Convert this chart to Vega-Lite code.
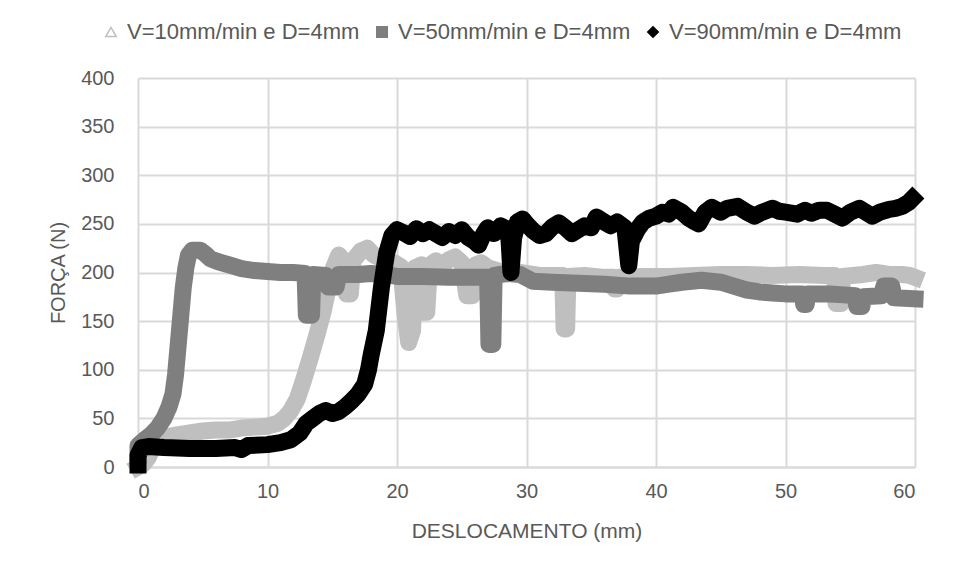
{
  "$schema": "https://vega.github.io/schema/vega-lite/v6.json",
  "width": 777,
  "height": 389,
  "autosize": {"type": "none"},
  "padding": {"left": 138, "top": 78, "right": 41, "bottom": 110},
  "background": "white",
  "config": {
    "view": {"stroke": null},
    "font": "Liberation Sans",
    "axis": {
      "gridColor": "#d9d9d9", "gridWidth": 2, "ticks": false, "tickSize": 0,
      "labelColor": "#595959", "titleColor": "#595959", "titleFontWeight": "normal",
      "labelFont": "Liberation Sans", "titleFont": "Liberation Sans"
    },
    "legend": {"labelFont": "Liberation Sans"}
  },
  "data": {"values": [
    {"s":"V=10mm/min e D=4mm","x":0,"y":0},{"s":"V=10mm/min e D=4mm","x":0.4,"y":3},{"s":"V=10mm/min e D=4mm","x":0.8,"y":10},{"s":"V=10mm/min e D=4mm","x":1.2,"y":22},{"s":"V=10mm/min e D=4mm","x":1.6,"y":28},{"s":"V=10mm/min e D=4mm","x":2.2,"y":31},{"s":"V=10mm/min e D=4mm","x":3,"y":33},{"s":"V=10mm/min e D=4mm","x":4,"y":35},{"s":"V=10mm/min e D=4mm","x":5,"y":37},{"s":"V=10mm/min e D=4mm","x":6,"y":38},{"s":"V=10mm/min e D=4mm","x":7,"y":38},{"s":"V=10mm/min e D=4mm","x":8,"y":40},{"s":"V=10mm/min e D=4mm","x":9,"y":41},{"s":"V=10mm/min e D=4mm","x":10,"y":42},{"s":"V=10mm/min e D=4mm","x":10.8,"y":45},{"s":"V=10mm/min e D=4mm","x":11.3,"y":50},{"s":"V=10mm/min e D=4mm","x":11.8,"y":58},{"s":"V=10mm/min e D=4mm","x":12.3,"y":70},{"s":"V=10mm/min e D=4mm","x":12.8,"y":90},{"s":"V=10mm/min e D=4mm","x":13.3,"y":112},{"s":"V=10mm/min e D=4mm","x":13.8,"y":135},{"s":"V=10mm/min e D=4mm","x":14.3,"y":160},{"s":"V=10mm/min e D=4mm","x":14.7,"y":185},{"s":"V=10mm/min e D=4mm","x":15.1,"y":205},{"s":"V=10mm/min e D=4mm","x":15.5,"y":218},{"s":"V=10mm/min e D=4mm","x":15.9,"y":212},{"s":"V=10mm/min e D=4mm","x":16.1,"y":178},{"s":"V=10mm/min e D=4mm","x":16.4,"y":178},{"s":"V=10mm/min e D=4mm","x":16.6,"y":212},{"s":"V=10mm/min e D=4mm","x":17.2,"y":222},{"s":"V=10mm/min e D=4mm","x":17.7,"y":225},{"s":"V=10mm/min e D=4mm","x":18.2,"y":218},{"s":"V=10mm/min e D=4mm","x":18.7,"y":215},{"s":"V=10mm/min e D=4mm","x":19.2,"y":208},{"s":"V=10mm/min e D=4mm","x":19.8,"y":210},{"s":"V=10mm/min e D=4mm","x":20.3,"y":206},{"s":"V=10mm/min e D=4mm","x":20.6,"y":160},{"s":"V=10mm/min e D=4mm","x":20.9,"y":128},{"s":"V=10mm/min e D=4mm","x":21.2,"y":140},{"s":"V=10mm/min e D=4mm","x":21.4,"y":205},{"s":"V=10mm/min e D=4mm","x":21.9,"y":208},{"s":"V=10mm/min e D=4mm","x":22.05,"y":159},{"s":"V=10mm/min e D=4mm","x":22.3,"y":159},{"s":"V=10mm/min e D=4mm","x":22.5,"y":207},{"s":"V=10mm/min e D=4mm","x":23,"y":212},{"s":"V=10mm/min e D=4mm","x":23.5,"y":208},{"s":"V=10mm/min e D=4mm","x":24,"y":213},{"s":"V=10mm/min e D=4mm","x":24.5,"y":216},{"s":"V=10mm/min e D=4mm","x":25,"y":210},{"s":"V=10mm/min e D=4mm","x":25.4,"y":176},{"s":"V=10mm/min e D=4mm","x":25.8,"y":176},{"s":"V=10mm/min e D=4mm","x":26.1,"y":208},{"s":"V=10mm/min e D=4mm","x":26.5,"y":210},{"s":"V=10mm/min e D=4mm","x":27,"y":205},{"s":"V=10mm/min e D=4mm","x":28,"y":201},{"s":"V=10mm/min e D=4mm","x":29,"y":201},{"s":"V=10mm/min e D=4mm","x":30,"y":199},{"s":"V=10mm/min e D=4mm","x":31,"y":197},{"s":"V=10mm/min e D=4mm","x":32,"y":197},{"s":"V=10mm/min e D=4mm","x":32.8,"y":197},{"s":"V=10mm/min e D=4mm","x":32.9,"y":142},{"s":"V=10mm/min e D=4mm","x":33.1,"y":142},{"s":"V=10mm/min e D=4mm","x":33.2,"y":196},{"s":"V=10mm/min e D=4mm","x":34.5,"y":197},{"s":"V=10mm/min e D=4mm","x":36,"y":195},{"s":"V=10mm/min e D=4mm","x":36.7,"y":195},{"s":"V=10mm/min e D=4mm","x":36.8,"y":183},{"s":"V=10mm/min e D=4mm","x":37.0,"y":183},{"s":"V=10mm/min e D=4mm","x":37.1,"y":195},{"s":"V=10mm/min e D=4mm","x":39,"y":196},{"s":"V=10mm/min e D=4mm","x":41,"y":196},{"s":"V=10mm/min e D=4mm","x":43,"y":197},{"s":"V=10mm/min e D=4mm","x":45,"y":198},{"s":"V=10mm/min e D=4mm","x":47,"y":198},{"s":"V=10mm/min e D=4mm","x":49,"y":197},{"s":"V=10mm/min e D=4mm","x":51,"y":198},{"s":"V=10mm/min e D=4mm","x":53,"y":197},{"s":"V=10mm/min e D=4mm","x":53.8,"y":197},{"s":"V=10mm/min e D=4mm","x":53.9,"y":168},{"s":"V=10mm/min e D=4mm","x":54.3,"y":168},{"s":"V=10mm/min e D=4mm","x":54.4,"y":196},{"s":"V=10mm/min e D=4mm","x":56,"y":198},{"s":"V=10mm/min e D=4mm","x":57,"y":200},{"s":"V=10mm/min e D=4mm","x":58,"y":198},{"s":"V=10mm/min e D=4mm","x":59,"y":198},{"s":"V=10mm/min e D=4mm","x":59.6,"y":197},{"s":"V=10mm/min e D=4mm","x":60,"y":195},
    {"s":"V=50mm/min e D=4mm","x":0,"y":12},{"s":"V=50mm/min e D=4mm","x":0,"y":22},{"s":"V=50mm/min e D=4mm","x":0.5,"y":28},{"s":"V=50mm/min e D=4mm","x":1,"y":33},{"s":"V=50mm/min e D=4mm","x":1.5,"y":40},{"s":"V=50mm/min e D=4mm","x":2,"y":50},{"s":"V=50mm/min e D=4mm","x":2.4,"y":62},{"s":"V=50mm/min e D=4mm","x":2.7,"y":75},{"s":"V=50mm/min e D=4mm","x":2.9,"y":95},{"s":"V=50mm/min e D=4mm","x":3.1,"y":125},{"s":"V=50mm/min e D=4mm","x":3.3,"y":155},{"s":"V=50mm/min e D=4mm","x":3.5,"y":185},{"s":"V=50mm/min e D=4mm","x":3.7,"y":205},{"s":"V=50mm/min e D=4mm","x":3.9,"y":218},{"s":"V=50mm/min e D=4mm","x":4.2,"y":223},{"s":"V=50mm/min e D=4mm","x":4.8,"y":223},{"s":"V=50mm/min e D=4mm","x":5.2,"y":219},{"s":"V=50mm/min e D=4mm","x":5.6,"y":214},{"s":"V=50mm/min e D=4mm","x":6.2,"y":211},{"s":"V=50mm/min e D=4mm","x":7,"y":208},{"s":"V=50mm/min e D=4mm","x":8,"y":204},{"s":"V=50mm/min e D=4mm","x":9,"y":202},{"s":"V=50mm/min e D=4mm","x":10,"y":201},{"s":"V=50mm/min e D=4mm","x":11,"y":200},{"s":"V=50mm/min e D=4mm","x":12,"y":200},{"s":"V=50mm/min e D=4mm","x":12.9,"y":199},{"s":"V=50mm/min e D=4mm","x":13.0,"y":156},{"s":"V=50mm/min e D=4mm","x":13.4,"y":156},{"s":"V=50mm/min e D=4mm","x":13.5,"y":198},{"s":"V=50mm/min e D=4mm","x":14.5,"y":197},{"s":"V=50mm/min e D=4mm","x":14.7,"y":185},{"s":"V=50mm/min e D=4mm","x":15.3,"y":185},{"s":"V=50mm/min e D=4mm","x":15.5,"y":198},{"s":"V=50mm/min e D=4mm","x":17,"y":198},{"s":"V=50mm/min e D=4mm","x":18,"y":199},{"s":"V=50mm/min e D=4mm","x":19,"y":198},{"s":"V=50mm/min e D=4mm","x":20,"y":196},{"s":"V=50mm/min e D=4mm","x":22,"y":196},{"s":"V=50mm/min e D=4mm","x":24,"y":195},{"s":"V=50mm/min e D=4mm","x":26,"y":195},{"s":"V=50mm/min e D=4mm","x":27.0,"y":195},{"s":"V=50mm/min e D=4mm","x":27.1,"y":126},{"s":"V=50mm/min e D=4mm","x":27.4,"y":126},{"s":"V=50mm/min e D=4mm","x":27.5,"y":197},{"s":"V=50mm/min e D=4mm","x":28.5,"y":199},{"s":"V=50mm/min e D=4mm","x":29.5,"y":198},{"s":"V=50mm/min e D=4mm","x":30.5,"y":191},{"s":"V=50mm/min e D=4mm","x":32,"y":190},{"s":"V=50mm/min e D=4mm","x":34,"y":189},{"s":"V=50mm/min e D=4mm","x":36,"y":188},{"s":"V=50mm/min e D=4mm","x":38,"y":186},{"s":"V=50mm/min e D=4mm","x":40,"y":186},{"s":"V=50mm/min e D=4mm","x":41,"y":188},{"s":"V=50mm/min e D=4mm","x":42,"y":190},{"s":"V=50mm/min e D=4mm","x":43.5,"y":192},{"s":"V=50mm/min e D=4mm","x":45,"y":190},{"s":"V=50mm/min e D=4mm","x":46,"y":186},{"s":"V=50mm/min e D=4mm","x":47,"y":182},{"s":"V=50mm/min e D=4mm","x":48,"y":180},{"s":"V=50mm/min e D=4mm","x":49,"y":179},{"s":"V=50mm/min e D=4mm","x":50,"y":178},{"s":"V=50mm/min e D=4mm","x":51.3,"y":178},{"s":"V=50mm/min e D=4mm","x":51.4,"y":167},{"s":"V=50mm/min e D=4mm","x":51.6,"y":167},{"s":"V=50mm/min e D=4mm","x":51.7,"y":178},{"s":"V=50mm/min e D=4mm","x":53.4,"y":178},{"s":"V=50mm/min e D=4mm","x":54.5,"y":177},{"s":"V=50mm/min e D=4mm","x":55.4,"y":176},{"s":"V=50mm/min e D=4mm","x":55.5,"y":165},{"s":"V=50mm/min e D=4mm","x":55.9,"y":165},{"s":"V=50mm/min e D=4mm","x":56.0,"y":175},{"s":"V=50mm/min e D=4mm","x":57.4,"y":176},{"s":"V=50mm/min e D=4mm","x":57.6,"y":186},{"s":"V=50mm/min e D=4mm","x":58.2,"y":186},{"s":"V=50mm/min e D=4mm","x":58.4,"y":174},{"s":"V=50mm/min e D=4mm","x":60,"y":173},
    {"s":"V=90mm/min e D=4mm","x":0,"y":2},{"s":"V=90mm/min e D=4mm","x":0,"y":12},{"s":"V=90mm/min e D=4mm","x":0.3,"y":20},{"s":"V=90mm/min e D=4mm","x":0.8,"y":21},{"s":"V=90mm/min e D=4mm","x":2,"y":20},{"s":"V=90mm/min e D=4mm","x":4,"y":19},{"s":"V=90mm/min e D=4mm","x":6,"y":19},{"s":"V=90mm/min e D=4mm","x":7.5,"y":20},{"s":"V=90mm/min e D=4mm","x":8,"y":18},{"s":"V=90mm/min e D=4mm","x":8.5,"y":22},{"s":"V=90mm/min e D=4mm","x":10,"y":23},{"s":"V=90mm/min e D=4mm","x":11,"y":25},{"s":"V=90mm/min e D=4mm","x":11.8,"y":28},{"s":"V=90mm/min e D=4mm","x":12.5,"y":35},{"s":"V=90mm/min e D=4mm","x":13,"y":45},{"s":"V=90mm/min e D=4mm","x":13.5,"y":50},{"s":"V=90mm/min e D=4mm","x":14,"y":55},{"s":"V=90mm/min e D=4mm","x":14.5,"y":58},{"s":"V=90mm/min e D=4mm","x":15,"y":55},{"s":"V=90mm/min e D=4mm","x":15.5,"y":57},{"s":"V=90mm/min e D=4mm","x":16,"y":62},{"s":"V=90mm/min e D=4mm","x":16.5,"y":68},{"s":"V=90mm/min e D=4mm","x":17,"y":75},{"s":"V=90mm/min e D=4mm","x":17.5,"y":85},{"s":"V=90mm/min e D=4mm","x":17.8,"y":100},{"s":"V=90mm/min e D=4mm","x":18,"y":115},{"s":"V=90mm/min e D=4mm","x":18.4,"y":140},{"s":"V=90mm/min e D=4mm","x":18.8,"y":185},{"s":"V=90mm/min e D=4mm","x":19.2,"y":220},{"s":"V=90mm/min e D=4mm","x":19.6,"y":238},{"s":"V=90mm/min e D=4mm","x":20,"y":244},{"s":"V=90mm/min e D=4mm","x":20.5,"y":241},{"s":"V=90mm/min e D=4mm","x":21,"y":237},{"s":"V=90mm/min e D=4mm","x":21.5,"y":245},{"s":"V=90mm/min e D=4mm","x":22,"y":240},{"s":"V=90mm/min e D=4mm","x":22.5,"y":244},{"s":"V=90mm/min e D=4mm","x":23,"y":240},{"s":"V=90mm/min e D=4mm","x":23.5,"y":236},{"s":"V=90mm/min e D=4mm","x":24,"y":242},{"s":"V=90mm/min e D=4mm","x":24.5,"y":238},{"s":"V=90mm/min e D=4mm","x":25,"y":244},{"s":"V=90mm/min e D=4mm","x":25.5,"y":236},{"s":"V=90mm/min e D=4mm","x":26,"y":232},{"s":"V=90mm/min e D=4mm","x":26.3,"y":228},{"s":"V=90mm/min e D=4mm","x":26.7,"y":240},{"s":"V=90mm/min e D=4mm","x":27,"y":246},{"s":"V=90mm/min e D=4mm","x":27.5,"y":240},{"s":"V=90mm/min e D=4mm","x":28,"y":248},{"s":"V=90mm/min e D=4mm","x":28.6,"y":244},{"s":"V=90mm/min e D=4mm","x":28.8,"y":200},{"s":"V=90mm/min e D=4mm","x":29.0,"y":235},{"s":"V=90mm/min e D=4mm","x":29.3,"y":252},{"s":"V=90mm/min e D=4mm","x":29.7,"y":255},{"s":"V=90mm/min e D=4mm","x":30,"y":250},{"s":"V=90mm/min e D=4mm","x":30.5,"y":243},{"s":"V=90mm/min e D=4mm","x":31,"y":238},{"s":"V=90mm/min e D=4mm","x":31.5,"y":240},{"s":"V=90mm/min e D=4mm","x":32,"y":247},{"s":"V=90mm/min e D=4mm","x":32.5,"y":251},{"s":"V=90mm/min e D=4mm","x":33,"y":246},{"s":"V=90mm/min e D=4mm","x":33.5,"y":240},{"s":"V=90mm/min e D=4mm","x":34,"y":244},{"s":"V=90mm/min e D=4mm","x":34.5,"y":248},{"s":"V=90mm/min e D=4mm","x":35,"y":246},{"s":"V=90mm/min e D=4mm","x":35.4,"y":257},{"s":"V=90mm/min e D=4mm","x":36,"y":252},{"s":"V=90mm/min e D=4mm","x":36.5,"y":248},{"s":"V=90mm/min e D=4mm","x":37,"y":252},{"s":"V=90mm/min e D=4mm","x":37.6,"y":246},{"s":"V=90mm/min e D=4mm","x":37.9,"y":207},{"s":"V=90mm/min e D=4mm","x":38.1,"y":232},{"s":"V=90mm/min e D=4mm","x":38.6,"y":245},{"s":"V=90mm/min e D=4mm","x":39,"y":252},{"s":"V=90mm/min e D=4mm","x":39.5,"y":256},{"s":"V=90mm/min e D=4mm","x":40,"y":258},{"s":"V=90mm/min e D=4mm","x":40.5,"y":262},{"s":"V=90mm/min e D=4mm","x":41,"y":260},{"s":"V=90mm/min e D=4mm","x":41.3,"y":267},{"s":"V=90mm/min e D=4mm","x":42,"y":262},{"s":"V=90mm/min e D=4mm","x":42.5,"y":256},{"s":"V=90mm/min e D=4mm","x":43,"y":252},{"s":"V=90mm/min e D=4mm","x":43.3,"y":250},{"s":"V=90mm/min e D=4mm","x":43.8,"y":262},{"s":"V=90mm/min e D=4mm","x":44.3,"y":267},{"s":"V=90mm/min e D=4mm","x":45,"y":262},{"s":"V=90mm/min e D=4mm","x":45.5,"y":266},{"s":"V=90mm/min e D=4mm","x":46.3,"y":268},{"s":"V=90mm/min e D=4mm","x":47,"y":262},{"s":"V=90mm/min e D=4mm","x":47.6,"y":258},{"s":"V=90mm/min e D=4mm","x":48.2,"y":262},{"s":"V=90mm/min e D=4mm","x":49,"y":266},{"s":"V=90mm/min e D=4mm","x":49.5,"y":263},{"s":"V=90mm/min e D=4mm","x":50,"y":262},{"s":"V=90mm/min e D=4mm","x":50.9,"y":260},{"s":"V=90mm/min e D=4mm","x":51.5,"y":264},{"s":"V=90mm/min e D=4mm","x":52,"y":261},{"s":"V=90mm/min e D=4mm","x":52.6,"y":264},{"s":"V=90mm/min e D=4mm","x":53.2,"y":264},{"s":"V=90mm/min e D=4mm","x":53.8,"y":260},{"s":"V=90mm/min e D=4mm","x":54.4,"y":256},{"s":"V=90mm/min e D=4mm","x":55,"y":262},{"s":"V=90mm/min e D=4mm","x":55.7,"y":266},{"s":"V=90mm/min e D=4mm","x":56.2,"y":262},{"s":"V=90mm/min e D=4mm","x":56.7,"y":258},{"s":"V=90mm/min e D=4mm","x":57.3,"y":262},{"s":"V=90mm/min e D=4mm","x":58,"y":265},{"s":"V=90mm/min e D=4mm","x":58.5,"y":266},{"s":"V=90mm/min e D=4mm","x":59,"y":268},{"s":"V=90mm/min e D=4mm","x":59.5,"y":272},{"s":"V=90mm/min e D=4mm","x":59.8,"y":276}
  ]},
  "encoding": {
    "x": {"field": "x", "type": "quantitative",
      "scale": {"domain": [0, 60], "nice": false},
      "axis": {"title": "DESLOCAMENTO (mm)", "values": [0,10,20,30,40,50,60], "grid": true,
        "domain": true, "domainColor": "#d9d9d9", "domainWidth": 2,
        "labelFontSize": 20, "labelPadding": 14, "titleFontSize": 21, "titlePadding": 19}},
    "y": {"field": "y", "type": "quantitative",
      "scale": {"domain": [0, 400], "nice": false},
      "axis": {"title": "FORÇA (N)", "values": [0,50,100,150,200,250,300,350,400], "grid": true,
        "domain": false, "labelFontSize": 20, "labelPadding": 24, "titleFontSize": 20, "titlePadding": 12}}
  },
  "layer": [
    {
      "mark": {"type": "point", "filled": false, "size": 60, "opacity": 1, "strokeWidth": 1.5},
      "encoding": {
        "fill": {"field": "s", "type": "nominal",
          "scale": {"domain": ["V=10mm/min e D=4mm","V=50mm/min e D=4mm","V=90mm/min e D=4mm"], "range": ["#ffffff","#7f7f7f","#000000"]},
          "legend": {"title": null, "orient": "none", "direction": "horizontal", "legendX": -38, "legendY": -57,
            "labelFontSize": 22, "labelColor": "#595959", "labelLimit": 400, "symbolSize": 110, "labelOffset": 5, "columnPadding": 11,
            "symbolStrokeWidth": 1.5}},
        "stroke": {"field": "s", "type": "nominal",
          "scale": {"domain": ["V=10mm/min e D=4mm","V=50mm/min e D=4mm","V=90mm/min e D=4mm"], "range": ["#bfbfbf","#7f7f7f","#000000"]},
          "legend": {"title": null}},
        "shape": {"field": "s", "type": "nominal",
          "scale": {"domain": ["V=10mm/min e D=4mm","V=50mm/min e D=4mm","V=90mm/min e D=4mm"], "range": ["triangle-up","square","diamond"]},
          "legend": {"title": null}}
      }
    },
    {
      "mark": {"type": "line", "strokeWidth": 17, "strokeJoin": "round", "strokeCap": "square"},
      "encoding": {
        "stroke": {"field": "s", "type": "nominal",
          "scale": {"domain": ["V=10mm/min e D=4mm","V=50mm/min e D=4mm","V=90mm/min e D=4mm"], "range": ["#bfbfbf","#7f7f7f","#000000"]},
          "legend": null},
        "order": {"value": null}
      }
    }
  ]
}
